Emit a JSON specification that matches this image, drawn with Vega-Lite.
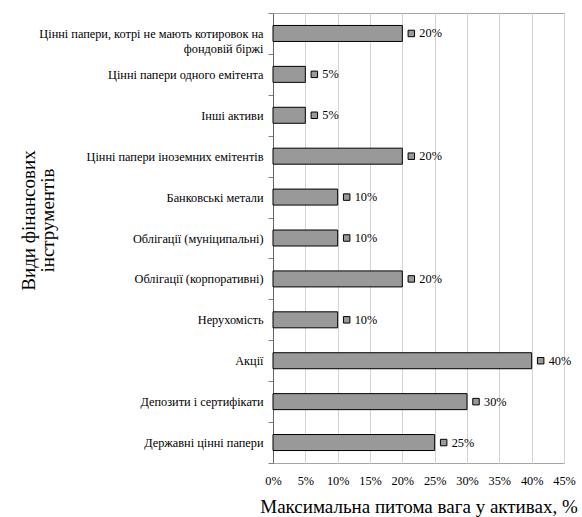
{
  "$schema": "https://vega.github.io/schema/vega-lite/v6.json",
  "width": 291,
  "height": 450,
  "autosize": {"type": "none"},
  "padding": {"left": 273, "top": 13, "right": 18, "bottom": 54},
  "background": "white",
  "config": {
    "font": "Liberation Serif",
    "view": {"stroke": "#a6a6a6", "strokeWidth": 1}
  },
  "data": {
    "values": [
      {"cat": "Цінні папери, котрі не мають котировок на|фондовій біржі", "v": 0.20},
      {"cat": "Цінні папери одного емітента", "v": 0.05},
      {"cat": "Інші активи", "v": 0.05},
      {"cat": "Цінні папери іноземних емітентів", "v": 0.20},
      {"cat": "Банковські метали", "v": 0.10},
      {"cat": "Облігації (муніципальні)", "v": 0.10},
      {"cat": "Облігації (корпоративні)", "v": 0.20},
      {"cat": "Нерухомість", "v": 0.10},
      {"cat": "Акції", "v": 0.40},
      {"cat": "Депозити і сертифікати", "v": 0.30},
      {"cat": "Державні цінні папери", "v": 0.25}
    ]
  },
  "encoding": {
    "y": {
      "field": "cat",
      "type": "nominal",
      "sort": null,
      "scale": {"paddingInner": 0, "paddingOuter": 0},
      "axis": {
        "title": ["Види фінансових", "інструментів"],
        "titleFont": "Liberation Serif",
        "titleFontSize": 19,
        "titleFontWeight": "normal",
        "titleColor": "black",
        "titleX": -254,
        "titleY": 207,
        "titleAngle": -90,
        "titleAlign": "center",
        "titleBaseline": "top",
        "titleLineHeight": 19,
        "labelExpr": "split(datum.label, '|')",
        "labelFont": "Liberation Serif",
        "labelFontSize": 12.3,
        "labelColor": "black",
        "labelLimit": 300,
        "labelPadding": 5,
        "labelAlign": "right",
        "labelLineHeight": 15,
        "tickBand": "extent",
        "tickSize": 5,
        "tickColor": "#808080",
        "domainColor": "#666666",
        "grid": false
      }
    },
    "x": {
      "field": "v",
      "type": "quantitative",
      "scale": {"domain": [0, 0.45], "nice": false},
      "axis": {
        "values": [0, 0.05, 0.1, 0.15, 0.2, 0.25, 0.3, 0.35, 0.4, 0.45],
        "format": ".0%",
        "title": "Максимальна питома вага у активах, %",
        "titleFont": "Liberation Serif",
        "titleFontSize": 19,
        "titleFontWeight": "normal",
        "titleColor": "black",
        "titleBaseline": "alphabetic",
        "titleY": 49,
        "labelFont": "Liberation Serif",
        "labelFontSize": 12.3,
        "labelColor": "black",
        "labelPadding": 11,
        "labelOverlap": false,
        "labelFlush": false,
        "ticks": false,
        "domain": false,
        "grid": true,
        "gridColor": "#d4d4d4",
        "gridWidth": 1
      }
    }
  },
  "layer": [
    {
      "mark": {"type": "bar", "size": 16, "fill": "#999999", "stroke": "black", "strokeWidth": 1}
    },
    {
      "mark": {"type": "point", "shape": "square", "size": 42, "filled": true, "fill": "#999999", "stroke": "black", "strokeWidth": 1, "opacity": 1, "xOffset": 9}
    },
    {
      "mark": {"type": "text", "align": "left", "baseline": "middle", "dx": 17, "fontSize": 12.3, "font": "Liberation Serif", "color": "black"},
      "encoding": {"text": {"field": "v", "type": "quantitative", "format": ".0%"}}
    }
  ]
}
